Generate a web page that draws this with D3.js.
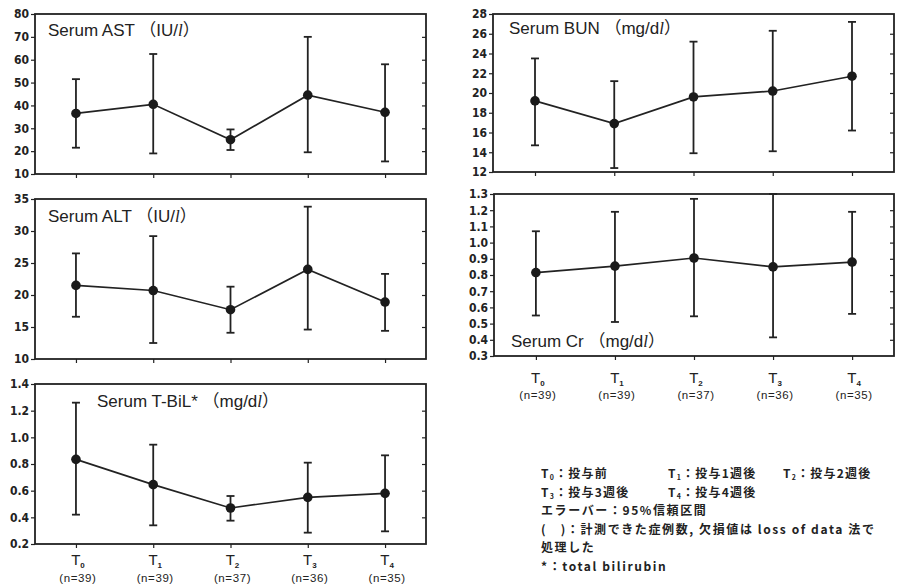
<!DOCTYPE html>
<html>
<head>
<meta charset="utf-8">
<script src="https://cdn.jsdelivr.net/npm/d3@7"></script>
<style>
  body { margin: 0; background: #fff; }
  text { fill: #222; }
</style>
</head>
<body>
<svg id="chart" width="899" height="585"></svg>
<script>
(function() {

  // time points T0..T4 and number of cases
  var timeSubs = ['0', '1', '2', '3', '4'];
  var nCounts = [39, 39, 37, 36, 35];

  // mean and 95% CI
  var astMean = [36.5, 40.5, 25, 44.5, 37];
  var astLow  = [21.5, 19, 20.5, 19.5, 15.5];
  var astHigh = [51.5, 62.5, 29.5, 70, 58];
  var astTicks = [10, 20, 30, 40, 50, 60, 70, 80];

  var altMean = [21.5, 20.7, 17.7, 24, 18.9];
  var altLow  = [16.6, 12.5, 14.1, 14.6, 14.4];
  var altHigh = [26.5, 29.2, 21.3, 33.8, 23.3];
  var altTicks = [10, 15, 20, 25, 30, 35];

  var bilMean = [0.835, 0.645, 0.47, 0.55, 0.58];
  var bilLow  = [0.42, 0.34, 0.375, 0.285, 0.295];
  var bilHigh = [1.26, 0.945, 0.56, 0.81, 0.865];
  var bilTicks = [0.2, 0.4, 0.6, 0.8, 1.0, 1.2, 1.4];

  var bunMean = [19.2, 16.9, 19.6, 20.2, 21.7];
  var bunLow  = [14.7, 12.4, 13.9, 14.1, 16.2];
  var bunHigh = [23.5, 21.2, 25.2, 26.3, 27.2];
  var bunTicks = [12, 14, 16, 18, 20, 22, 24, 26, 28];

  var crMean = [0.815, 0.855, 0.905, 0.85, 0.88];
  var crLow  = [0.55, 0.51, 0.545, 0.415, 0.56];
  var crHigh = [1.07, 1.19, 1.27, 1.30, 1.19];
  var crTicks = [0.3, 0.4, 0.5, 0.6, 0.7, 0.8, 0.9, 1.0, 1.1, 1.2, 1.3];

  var legendLines = [
    [['T', '0', '：投与前'], ['T', '1', '：投与1週後'], ['T', '2', '：投与2週後']],
    [['T', '3', '：投与3週後'], ['T', '4', '：投与4週後']],
    [['', '', 'エラーバー：95%信頼区間']],
    [['', '', '(　)：計測できた症例数, 欠損値は loss of data 法で']],
    [['', '', '処理した']],
    [['', '', '*：total bilirubin']]
  ];

  var ink = '#222';
  var fmtInt = d3.format('d');
  var fmt1 = d3.format('.1f');

  var panels = [
    { title: 'Serum AST', unit: 'IU/', mean: astMean, low: astLow, high: astHigh,
      ticks: astTicks, fmt: fmtInt, box: [35, 14, 426, 174], tpos: [48, 36], xlab: null },
    { title: 'Serum ALT', unit: 'IU/', mean: altMean, low: altLow, high: altHigh,
      ticks: altTicks, fmt: fmtInt, box: [35, 199, 426, 359], tpos: [48, 222], xlab: null },
    { title: 'Serum T-BiL*', unit: 'mg/d', mean: bilMean, low: bilLow, high: bilHigh,
      ticks: bilTicks, fmt: fmt1, box: [35, 384, 426, 544], tpos: [97, 407], xlab: [565, 582] },
    { title: 'Serum BUN', unit: 'mg/d', mean: bunMean, low: bunLow, high: bunHigh,
      ticks: bunTicks, fmt: fmtInt, box: [493, 14, 894, 172], tpos: [509, 34], xlab: null },
    { title: 'Serum Cr', unit: 'mg/d', mean: crMean, low: crLow, high: crHigh,
      ticks: crTicks, fmt: fmt1, box: [494, 194, 894, 356], tpos: [511, 347], xlab: [383, 399] }
  ];

  var svg = d3.select('#chart');

  panels.forEach(drawPanel);
  drawLegend();

  function drawPanel(p) {
    var x0 = p.box[0], y0 = p.box[1], x1 = p.box[2], y1 = p.box[3];
    var g = svg.append('g');

    var x = d3.scalePoint()
      .domain(d3.range(p.mean.length))
      .range([x0, x1])
      .padding(0.53);
    var y = d3.scaleLinear()
      .domain(d3.extent(p.ticks))
      .range([y1, y0]);

    // left axis
    var left = g.append('g')
      .attr('transform', 'translate(' + x0 + ',0)')
      .call(d3.axisLeft(y).tickValues(p.ticks).tickFormat(p.fmt)
        .tickSize(4).tickPadding(2));
    left.select('.domain').remove();
    left.selectAll('line').attr('stroke', ink).attr('stroke-width', 1.2);
    left.selectAll('text')
      .style('font-family', '"Liberation Sans Narrow", "DejaVu Sans Condensed", sans-serif')
      .style('font-weight', 'bold')
      .style('font-size', '12px')
      .attr('fill', ink);

    // right side inner ticks
    var right = g.append('g')
      .attr('transform', 'translate(' + x1 + ',0)')
      .call(d3.axisLeft(y).tickValues(p.ticks.slice(1, -1)).tickFormat('').tickSize(4));
    right.select('.domain').remove();
    right.selectAll('line').attr('stroke', ink).attr('stroke-width', 1.2);

    // bottom ticks
    var bottom = g.append('g')
      .attr('transform', 'translate(0,' + y1 + ')')
      .call(d3.axisBottom(x).tickFormat('').tickSize(4));
    bottom.select('.domain').remove();
    bottom.selectAll('line').attr('stroke', ink).attr('stroke-width', 1.2);

    // frame
    g.append('rect')
      .attr('x', x0).attr('y', y0)
      .attr('width', x1 - x0).attr('height', y1 - y0)
      .attr('fill', 'none')
      .attr('stroke', ink)
      .attr('stroke-width', 1.8);

    // title
    var t = g.append('text')
      .attr('x', p.tpos[0]).attr('y', p.tpos[1])
      .style('font-family', '"Liberation Sans", Arial, sans-serif')
      .style('font-size', '17px')
      .attr('fill', '#333');
    t.append('tspan').text(p.title + ' ');
    t.append('tspan').style('font-family', '"Noto Sans CJK JP", sans-serif').text('（');
    t.append('tspan').text(p.unit);
    t.append('tspan').style('font-style', 'italic').style('font-family', '"Liberation Serif", serif').text('l');
    t.append('tspan').style('font-family', '"Noto Sans CJK JP", sans-serif').text('）');

    var idx = d3.range(p.mean.length);

    // error bars
    var bars = g.selectAll('.err').data(idx).enter().append('g');
    bars.append('line')
      .attr('x1', function(i) { return x(i); })
      .attr('x2', function(i) { return x(i); })
      .attr('y1', function(i) { return y(p.low[i]); })
      .attr('y2', function(i) { return y(p.high[i]); })
      .attr('stroke', ink).attr('stroke-width', 1.8);
    ['low', 'high'].forEach(function(k) {
      bars.append('line')
        .attr('x1', function(i) { return x(i) - 4; })
        .attr('x2', function(i) { return x(i) + 4; })
        .attr('y1', function(i) { return y(p[k][i]); })
        .attr('y2', function(i) { return y(p[k][i]); })
        .attr('stroke', ink).attr('stroke-width', 1.8);
    });

    // mean line
    g.append('path')
      .datum(idx)
      .attr('fill', 'none')
      .attr('stroke', ink)
      .attr('stroke-width', 1.7)
      .attr('d', d3.line()
        .x(function(i) { return x(i); })
        .y(function(i) { return y(p.mean[i]); }));

    g.selectAll('.pt').data(idx).enter().append('circle')
      .attr('cx', function(i) { return x(i); })
      .attr('cy', function(i) { return y(p.mean[i]); })
      .attr('r', 4.8)
      .attr('fill', '#1a1a1a');

    if (p.xlab) {
      idx.forEach(function(i) {
        var lt = g.append('text')
          .attr('x', x(i) + 2).attr('y', p.xlab[0])
          .attr('text-anchor', 'middle')
          .style('font-family', '"Liberation Sans", Arial, sans-serif')
          .style('font-size', '15px');
        lt.append('tspan').text('T');
        lt.append('tspan').attr('dy', 3).style('font-size', '8px').style('font-weight', 'bold').text(timeSubs[i]);
        g.append('text')
          .attr('x', x(i) + 2).attr('y', p.xlab[1])
          .attr('text-anchor', 'middle')
          .style('font-family', '"Liberation Sans", Arial, sans-serif')
          .style('font-size', '11.5px')
          .style('letter-spacing', '0.6px')
          .text('(n=' + nCounts[i] + ')');
      });
    }
  }

  function drawLegend() {
    var baselines = [478, 496.5, 515, 533.5, 552, 570.5];
    var starts = [[541, 668, 783], [541, 668]];
    legendLines.forEach(function(line, li) {
      line.forEach(function(item, ii) {
        var xs = li < 2 ? starts[li][ii] : 541;
        var lt = svg.append('text')
          .attr('x', xs).attr('y', baselines[li])
          .style('font-family', '"Noto Sans CJK JP", sans-serif')
          .style('font-weight', 'bold')
          .style('font-size', '12px')
          .style('letter-spacing', li < 2 ? '1.2px' : '1.6px');
        if (item[0]) {
          lt.append('tspan').text(item[0]);
          lt.append('tspan').attr('dy', 2).style('font-size', '7px').text(item[1]);
          lt.append('tspan').attr('dy', -2).text(item[2]);
        } else {
          lt.text(item[2]);
        }
      });
    });
  }
})();
</script>
</body>
</html>
